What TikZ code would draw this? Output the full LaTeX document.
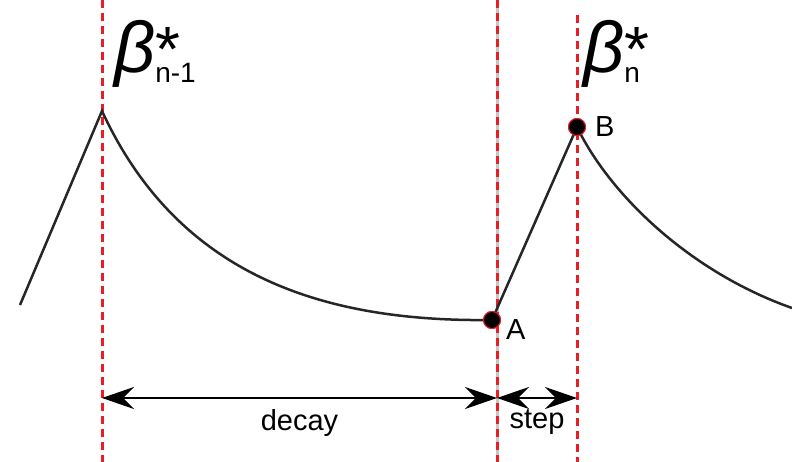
\documentclass[tikz,border=0pt]{standalone}
\usepackage{fontspec}
\setmainfont{Liberation Sans}
\usetikzlibrary{arrows.meta}

\definecolor{guidered}{RGB}{232,30,38}
\newcommand{\optlabel}[1]{{\fontsize{72}{72}\selectfont\itshape β}%
  \rlap{\raisebox{1pt}{\fontsize{64}{64}\selectfont *}}%
  \raisebox{-10pt}{\fontsize{28}{28}\selectfont #1}}

\tikzset{
  guide/.style={guidered, line width=3pt, dash pattern=on 8pt off 5pt},
  curve/.style={black!85, line width=2.5pt, line join=miter},
  dot/.style={circle, fill=black, draw=guidered, line width=1pt, inner sep=0pt, minimum size=17pt},
  span/.style={<->, line width=2.8pt},
  lbl/.style={font=\fontsize{29}{29}\selectfont}
}

\begin{document}
\begin{tikzpicture}[x=1pt, y=-1pt, >={Stealth[length=32pt, width=22pt, inset=11pt]}]
  \useasboundingbox (0,0) rectangle (792,462);

  % guide lines
  \coordinate (g1t) at (102,0);   \coordinate (g1b) at (102,462);
  \coordinate (g2t) at (497,0);   \coordinate (g2b) at (497,462);
  \coordinate (g3t) at (577,15);  \coordinate (g3b) at (577,462);
  \draw[gray!45, line width=3pt] (g2t) -- (g2b);
  \foreach \t/\b in {g1t/g1b, g2t/g2b, g3t/g3b} \draw[guide] (\t) -- (\b);

  % curve
  \coordinate (start) at (20,305);
  \coordinate (peak) at (102,111);
  \coordinate (stop) at (792,308);
  \node[dot] (A) at (492,320) {};
  \node[dot] (B) at (577,127) {};
  \draw[curve] (start) -- (peak)
    .. controls (180,280) and (330,322) .. (A.center)
    -- (B.center)
    .. controls (610,195) and (690,272) .. (stop);
  \node[dot] at (A) {};
  \node[dot] at (B) {};
  \node[lbl, anchor=west, inner sep=0pt] (Alab) at (506,330) {A};
  \node[lbl, anchor=west, inner sep=0pt] (Blab) at (595,127) {B};

  % labels
  \node[anchor=base west, inner sep=0pt] (beta1) at (114,73) {\optlabel{n-1}};
  \node[anchor=base west, inner sep=0pt] (beta2) at (583,73) {\optlabel{n}};

  % spans
  \coordinate (d1) at (102,398);
  \coordinate (d2) at (497,398);
  \coordinate (d3) at (577,398);
  \draw[span] (d1) -- node[lbl, below=10pt, inner sep=0pt] {decay} (d2);
  \draw[span] (d2) -- node[lbl, below=10pt, inner sep=0pt] {step} (d3);
\end{tikzpicture}
\end{document}
